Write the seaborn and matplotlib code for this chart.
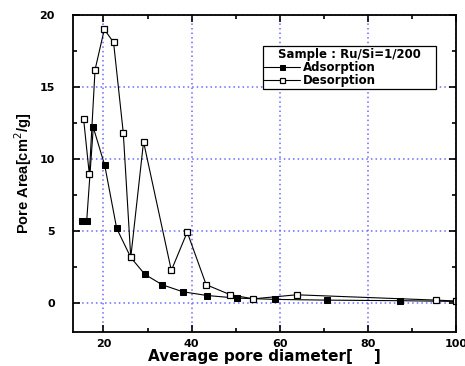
import matplotlib
matplotlib.use("Agg")
import matplotlib.pyplot as plt
import seaborn as sns
from matplotlib.ticker import MultipleLocator

# pore size distribution, Ru/Si = 1/200
ads_d = [15.1, 16.2, 17.7, 20.3, 23.0, 26.2, 29.4, 33.3, 38.0, 43.5, 50.3, 59.0, 70.6, 87.2, 100.0]
ads_area = [5.69, 5.69, 12.2, 9.56, 5.2, 3.17, 2.0, 1.28, 0.79, 0.53, 0.35, 0.26, 0.21, 0.17, 0.12]

des_d = [15.5, 16.8, 18.1, 20.2, 22.3, 24.5, 26.2, 29.1, 35.4, 39.0, 43.3, 48.8, 54.0, 63.8, 95.5, 100.0]
des_area = [12.8, 8.94, 16.2, 19.0, 18.1, 11.83, 3.17, 11.2, 2.27, 4.93, 1.28, 0.58, 0.3, 0.58, 0.21, 0.15]

sns.set_style("ticks", {"axes.edgecolor": "black", "text.color": "black",
                        "xtick.color": "black", "ytick.color": "black",
                        "axes.labelcolor": "black"})
plt.rcParams["font.family"] = ["DejaVu Sans"]

fig = plt.figure(figsize=(4.65, 3.66), dpi=100)
ax = fig.add_axes([0.157, 0.093, 0.824, 0.866])

sns.lineplot(x=ads_d, y=ads_area, ax=ax, color="black", lw=0.8, marker="s",
             markersize=4.5, markerfacecolor="black", markeredgecolor="black",
             sort=False, label="Adsorption")
sns.lineplot(x=des_d, y=des_area, ax=ax, color="black", lw=0.8, marker="s",
             markersize=4.5, markerfacecolor="white", markeredgecolor="black",
             markeredgewidth=0.9, sort=False, label="Desorption")

ax.set_xlim(13.1, 100)
ax.set_ylim(-2, 20)
ax.xaxis.set_major_locator(MultipleLocator(20))
ax.xaxis.set_minor_locator(MultipleLocator(10))
ax.yaxis.set_major_locator(MultipleLocator(5))
ax.yaxis.set_minor_locator(MultipleLocator(2.5))
ax.tick_params(which="both", direction="in", top=True, right=True, width=1.2)
ax.tick_params(which="major", length=5, labelsize=8)
ax.tick_params(axis="x", which="major", pad=5)
ax.tick_params(axis="y", which="major", pad=13)
ax.tick_params(which="minor", length=3)
for lab in ax.get_xticklabels() + ax.get_yticklabels():
    lab.set_fontweight("bold")
for sp in ax.spines.values():
    sp.set_linewidth(1.3)
    sp.set_visible(True)

ax.grid(True, which="major", color="#6a6aff", linestyle=(0, (1, 2)), lw=1.1)

ax.set_xlabel("Average pore diameter[    ]", fontsize=11, fontweight="bold", labelpad=0)
ax.set_ylabel("Pore Area[cm$^2$/g]", fontsize=10.5, fontweight="bold", labelpad=4,
              family="Liberation Sans")

leg = ax.legend(title="Sample : Ru/Si=1/200", loc="upper left", mode="expand",
                bbox_to_anchor=(0.495, 0.6, 0.452, 0.302), frameon=True, fancybox=False,
                edgecolor="black", framealpha=1, fontsize=8.5, title_fontsize=8.5,
                handlelength=3.0, handletextpad=0.25, borderpad=0.15,
                labelspacing=0.0, markerscale=0.8, borderaxespad=0)
leg.get_frame().set_linewidth(0.9)
leg.get_title().set_fontweight("bold")
for t in leg.get_texts():
    t.set_fontweight("bold")

fig.savefig("out.png", dpi=100)
